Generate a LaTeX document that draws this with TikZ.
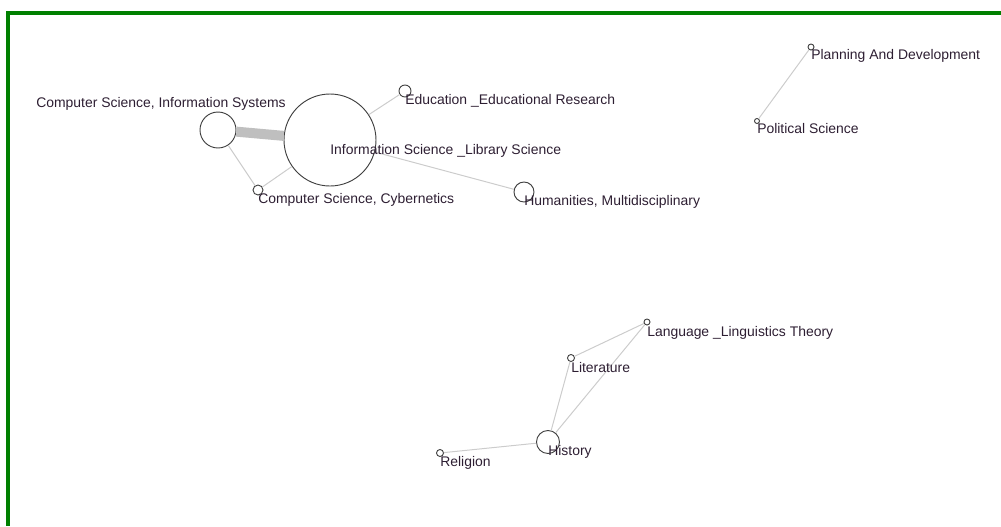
\documentclass[tikz,border=0pt]{standalone}
\usepackage{fontspec}
\setmainfont{Liberation Sans}
\usetikzlibrary{positioning}
\definecolor{labelc}{RGB}{45,30,50}
\definecolor{framec}{RGB}{0,128,0}
\tikzset{
    mynode/.style = {circle, draw=black!75, line width=0.7pt, inner sep=0pt, minimum size=#1*0.75pt},
    mylabel/.style = {anchor=base west, inner sep=0pt, text=labelc, font=\fontsize{10.45pt}{12pt}\selectfont},
    edgen/.style = {draw=black!20, line width=0.75pt},
    edgew/.style = {draw=black!25, line width=7.5pt},
    frame/.style = {draw=framec, line width=3pt}
}
\begin{document}
\begin{tikzpicture}[x=0.75pt,y=-0.75pt]
\useasboundingbox (0,0) rectangle (1001,526);
\draw[frame] (1001,13) -- (8,13) -- (8,526);
%
\node[mynode=36] at (218,130) (csis) {};
\node[mynode=92] at (330,140) (isls) {};
\node[mynode=10] at (258,190) (csc) {};
\node[mynode=12] at (405,91) (edu) {};
\node[mynode=20] at (524,192) (hum) {};
\node[mynode=6] at (811,47) (plan) {};
\node[mynode=5] at (757,121) (pol) {};
\node[mynode=6] at (647,322) (lang) {};
\node[mynode=7] at (571,358) (lit) {};
\node[mynode=23] at (548,442) (hist) {};
\node[mynode=7] at (440,453) (rel) {};
%
\draw[edgew] (csis) edge (isls);
\draw[edgen] (csis) edge (csc);
\draw[edgen] (csc) edge (isls);
\draw[edgen] (isls) edge (edu);
\draw[edgen] (isls) edge (hum);
\draw[edgen] (plan) edge (pol);
\draw[edgen] (lang) edge (lit);
\draw[edgen] (lang) edge (hist);
\draw[edgen] (lit) edge (hist);
\draw[edgen] (hist) edge (rel);
%
\node[mylabel] (csis-l) at (36,107) {Computer Science, Information Systems};
\node[mylabel] (isls-l) at ([shift={(0,14)}]isls.center) {Information Science \_Library Science};
\node[mylabel] (csc-l) at ([shift={(0,13)}]csc.center) {Computer Science, Cybernetics};
\node[mylabel] (edu-l) at ([shift={(0,13)}]edu.center) {Education \_Educational Research};
\node[mylabel] (hum-l) at ([shift={(0,13)}]hum.center) {Humanities, Multidisciplinary};
\node[mylabel] (plan-l) at ([shift={(0,12)}]plan.center) {Planning And Development};
\node[mylabel] (pol-l) at ([shift={(0,12)}]pol.center) {Political Science};
\node[mylabel] (lang-l) at ([shift={(0,14)}]lang.center) {Language \_Linguistics Theory};
\node[mylabel] (lit-l) at ([shift={(0,14)}]lit.center) {Literature};
\node[mylabel] (hist-l) at ([shift={(0,13)}]hist.center) {History};
\node[mylabel] (rel-l) at ([shift={(0,13)}]rel.center) {Religion};
\end{tikzpicture}
\end{document}
